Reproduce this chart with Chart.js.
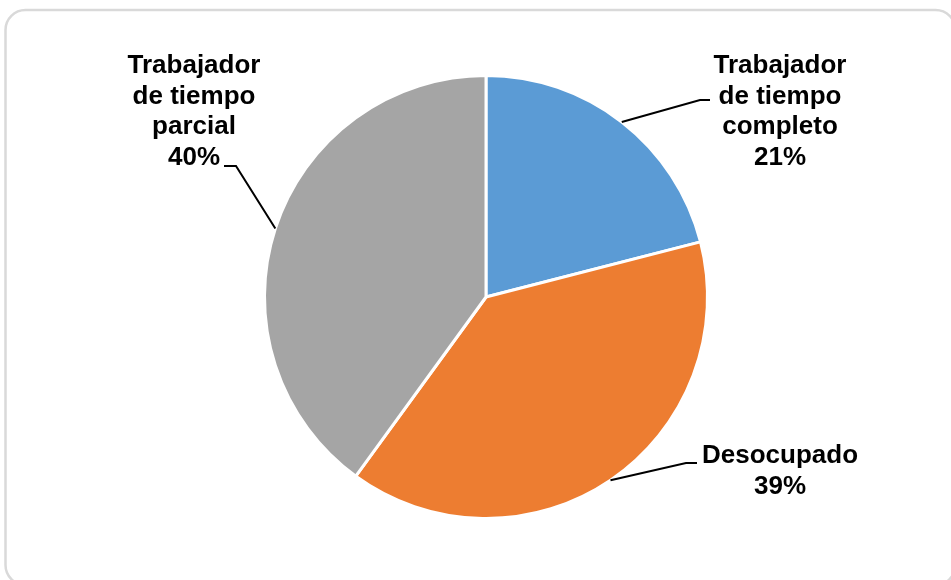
<!DOCTYPE html>
<html>
<head>
<meta charset="utf-8">
<script src="https://cdn.jsdelivr.net/npm/chart.js@4.4.1/dist/chart.umd.min.js"></script>
<style>
  body { margin: 0; background: #fff; }
  #wrap { width: 951px; height: 580px; position: relative; }
</style>
</head>
<body>
<div id="wrap"><canvas id="pieChart"></canvas></div>
<script>
const categories = [
  ["Trabajador", "de tiempo", "completo"],
  ["Desocupado"],
  ["Trabajador", "de tiempo", "parcial"]
];
const values = [21, 39, 40];
const colors = ['#5B9BD5', '#ED7D31', '#A5A5A5'];

// where each label sits (text centre x, first baseline y) and where its leader line ends
const labelLayout = [
  { cx: 780, top: 73, endX: 700, endY: 100, tail: 10 },
  { cx: 780, top: 463, endX: 686, endY: 463, tail: 11 },
  { cx: 194, top: 73, endX: 236, endY: 166, tail: -12 }
];

const FONT = "bold 26px 'Liberation Sans', Arial, sans-serif";
const LINE_H = 30.5;

const framePlugin = {
  id: 'frame',
  beforeDraw(chart) {
    const ctx = chart.ctx;
    ctx.save();
    ctx.strokeStyle = '#d9d9d9';
    ctx.lineWidth = 2.5;
    ctx.beginPath();
    ctx.roundRect(5.5, 10, 950, 575, 20);
    ctx.stroke();
    ctx.restore();
  }
};

const labelPlugin = {
  id: 'sliceLabels',
  afterDraw(chart) {
    const ctx = chart.ctx;
    const meta = chart.getDatasetMeta(0);
    const total = values.reduce((a, b) => a + b, 0);
    ctx.save();
    meta.data.forEach((arc, i) => {
      const p = arc.getProps(['x', 'y', 'startAngle', 'endAngle', 'outerRadius'], true);
      const mid = (p.startAngle + p.endAngle) / 2;
      const sx = p.x + Math.cos(mid) * p.outerRadius;
      const sy = p.y + Math.sin(mid) * p.outerRadius;
      const lay = labelLayout[i];

      ctx.strokeStyle = '#000';
      ctx.lineWidth = 2;
      ctx.beginPath();
      ctx.moveTo(sx, sy);
      ctx.lineTo(lay.endX, lay.endY);
      ctx.lineTo(lay.endX + lay.tail, lay.endY);
      ctx.stroke();

      const lines = categories[i].concat([Math.round(values[i] / total * 100) + '%']);
      ctx.fillStyle = '#000';
      ctx.font = FONT;
      ctx.textAlign = 'center';
      ctx.textBaseline = 'alphabetic';
      lines.forEach((t, k) => ctx.fillText(t, lay.cx, lay.top + k * LINE_H));
    });
    ctx.restore();
  }
};

new Chart(document.getElementById('pieChart'), {
  type: 'pie',
  data: {
    labels: categories.map(c => c.join(' ')),
    datasets: [{
      data: values,
      backgroundColor: colors,
      borderColor: '#ffffff',
      borderWidth: 3
    }]
  },
  options: {
    responsive: true,
    maintainAspectRatio: false,
    animation: false,
    layout: { padding: { left: 21, right: 0, top: 74, bottom: 60 } },
    plugins: {
      legend: { display: false },
      tooltip: { enabled: false }
    }
  },
  plugins: [framePlugin, labelPlugin]
});
</script>
</body>
</html>
